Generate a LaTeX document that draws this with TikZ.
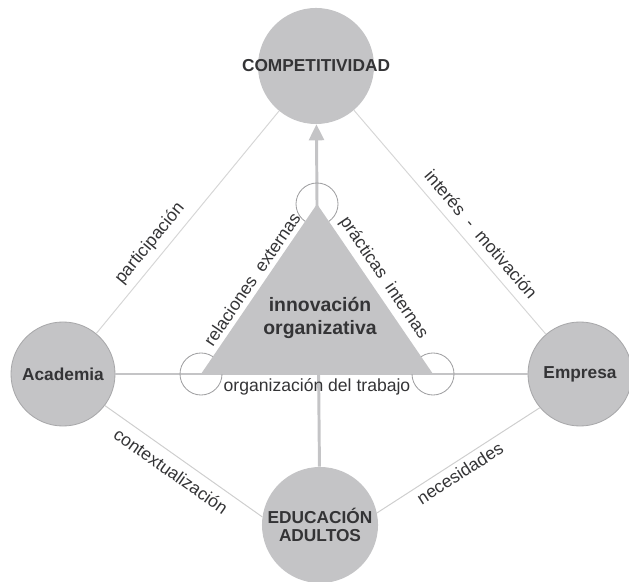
\documentclass[tikz,border=0pt]{standalone}
\usepackage{fontspec}
\setmainfont{Liberation Sans}
\usepackage{tikz}
\usetikzlibrary{arrows.meta,positioning}
\usepackage{xcolor}
\definecolor{hubgray}{RGB}{196,196,198}
\definecolor{rimgray}{RGB}{168,168,170}
\definecolor{inkgray}{RGB}{52,52,54}
\definecolor{linkgray}{RGB}{214,214,214}
\definecolor{lowlinkgray}{RGB}{206,206,206}
\definecolor{spinegray}{RGB}{196,196,198}
\definecolor{ringgray}{RGB}{160,160,162}
\tikzstyle{hub} = [circle, minimum size=2.9cm, inner sep=0pt, fill=hubgray, text=inkgray, font=\fontsize{12.3}{13.1}\selectfont\bfseries, align=center]
\tikzstyle{hubtext} = [text=inkgray, font=\fontsize{12.3}{13.1}\selectfont\bfseries, align=center]
\tikzstyle{ring} = [circle, minimum size=1.05cm, inner sep=0pt, draw=ringgray, line width=0.6pt]
\tikzstyle{link} = [draw=linkgray, line width=0.7pt]
\tikzstyle{tag} = [text=inkgray, font=\fontsize{12.5}{14}\selectfont, sloped]
\tikzstyle{spine} = [draw=spinegray, line width=2.1pt]
\tikzstyle{arrow} = [spine, -{Triangle[length=0.4cm,width=0.375cm]}]

\begin{document}
\begin{tikzpicture}[x=0.025cm, y=-0.025cm]
\useasboundingbox (0,0) rectangle (629,582);

% the four actors
\node[hub] (comp) at (316,66) {};
\node[hubtext] (comptext) at (comp) {COMPETITIVIDAD};
\node[hub, draw=rimgray, line width=0.6pt, minimum size=2.6cm] (acad) at (63,374) {Academia};
\node[hub, draw=rimgray, line width=0.6pt, minimum size=2.6cm] (emp) at (580,374) {Empresa};
\node[hub] (edu) at (320,525) {EDUCACIÓN\\ADULTOS};

% corners of the inner triangle
\coordinate (top) at (317,204);
\coordinate (bl) at (201,374);
\coordinate (br) at (433,374);

% outer links
\draw[link] (acad) -- node[tag, above=1.5pt, pos=0.36] (lblpart) {participación} (comp);
\draw[link] (comp) -- node[tag, above=3pt, pos=0.6] (lblint) {interés\ \ -\ \ motivación} (emp);
\draw[link, draw=lowlinkgray] (acad.-37) -- node[tag, below=2.5pt, pos=0.476] (lblctx) {contextualización} (edu.172);
\draw[link, draw=lowlinkgray] (edu.12) -- node[tag, below=0pt, pos=0.47] (lblnec) {necesidades} (emp.-140);

% cross lines
\draw[spine, line width=1.4pt] (acad) -- (emp);
\draw[spine] (edu) -- (top);
\draw[arrow] (top) -- (comp);

\node[ring] (ringtop) at (top) {};
\node[ring] (ringbl) at (bl) {};
\node[ring] (ringbr) at (br) {};

% innovation triangle
\fill[hubgray] (bl) -- (top) -- (br) -- cycle;
\path (bl) -- node[tag, above, pos=0.52] (lblrel) {relaciones\ \ externas} (top);
\path (top) -- node[tag, above, pos=0.48] (lblprac) {prácticas\ \ internas} (br);
\path (bl) -- node[tag, below, pos=0.5] (lblorg) {organización del trabajo} (br);
\node[text=inkgray, font=\fontsize{13.8}{16.7}\selectfont\bfseries, align=center] (core) at (320,318) {innovación\\organizativa};
\end{tikzpicture}
\end{document}
